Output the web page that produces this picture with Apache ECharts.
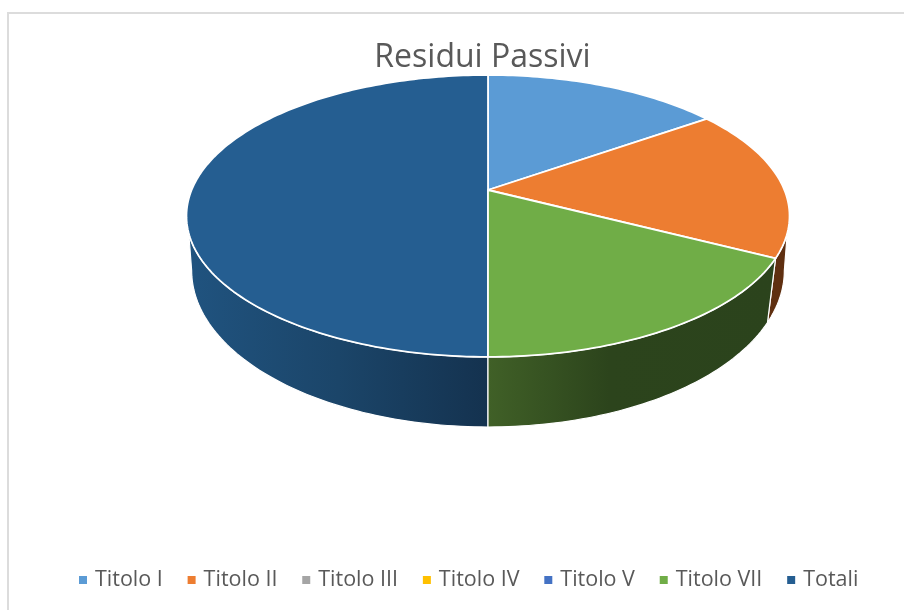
<!DOCTYPE html>
<html><head><meta charset="utf-8">
<style>html,body{margin:0;padding:0;background:#fff}#c{width:904px;height:610px}</style>
<script src="https://cdn.jsdelivr.net/npm/echarts@6/dist/echarts.min.js"></script>
</head><body><div id="c"></div>
<script>
const categories = ['Titolo I','Titolo II','Titolo III','Titolo IV','Titolo V','Titolo VII','Totali'];
const values = [15.2, 17.4, 0, 0, 0, 17.4, 50];
const colors = ['#5B9BD5','#ED7D31','#A5A5A5','#FFC000','#4472C4','#70AD47','#255E91'];
const wallStops = {
  'Titolo I': [[0,'#2f5f8a'],[1,'#2f5f8a']],
  'Titolo II': [[0,'#5f2f10'],[1,'#5f2f10']],
  'Titolo VII': [[0,'#406027'],[0.42,'#2c441c'],[1,'#2b431c']],
  'Totali': [[0,'#20537f'],[0.5,'#1b4569'],[1,'#14324f']]
};
const TOP = {cx:488, cy:190, a:296.4, b:136.2, k:-0.184};
const BOT = {cx:488, cy:247, a:293, b:153, k:-0.15};
const total = values.reduce((s,v)=>s+v,0);
function project(p, t){ const u=Math.sin(t), v=-Math.cos(t), w=1+p.k*v; return [p.cx+p.a*u/w, p.cy+p.b*v/w]; }
function arc(p,t0,t1){ const n=Math.max(2,Math.ceil(Math.abs(t1-t0)/0.02)), out=[]; for(let i=0;i<=n;i++) out.push(project(p,t0+(t1-t0)*i/n)); return out; }
const D2R=Math.PI/180;
const rightTop=(90+17.5)*D2R, leftTop=(270-17.5)*D2R, rightBot=(90+8.6)*D2R, leftBot=(270-8.6)*D2R;
function renderSlice(idx){ return function(params, api){
  const val=api.value(0); if(!val) return null;
  let start=0; for(let i=0;i<idx;i++) start+=values[i];
  const t0=start/total*2*Math.PI, t1=(start+val)/total*2*Math.PI;
  const children=[];
  const s=wallStops[categories[idx]];
  const a0=Math.max(t0,rightTop), a1=Math.min(t1,leftTop);
  if(a1>a0){
    const b0=Math.max(t0,rightBot), b1=Math.min(t1,leftBot);
    const pts=arc(TOP,a0,a1).concat(arc(BOT,b1,b0));
    const xs=pts.map(p=>p[0]); const x0=Math.min(...xs), x1=Math.max(...xs);
    children.push({type:'polygon',z2:1,shape:{points:pts},style:{
      fill:{type:'linear',x:x0,y:0,x2:x1,y2:0,global:true,colorStops:s.map(c=>({offset:c[0],color:c[1]}))},
      stroke:'#fff',lineWidth:1.2}});
  }
  const pts=[[TOP.cx,TOP.cy]].concat(arc(TOP,t0,t1));
  children.push({type:'polygon',z2:2,shape:{points:pts},style:{fill:colors[idx],stroke:'#fff',lineWidth:1.8,lineJoin:'round'}});
  return {type:'group',children};
};}
const chart=echarts.init(document.getElementById('c'),null,{renderer:'canvas'});
chart.setOption({
  animation:false,backgroundColor:'#fff',color:colors,
  title:{text:'Residui Passivi',left:477.5,top:36.5,textAlign:'center',
    textStyle:{fontFamily:'Open Sans',fontWeight:'normal',fontSize:32,color:'#595959'}},
  legend:{data:categories,top:564,left:74,icon:'rect',itemWidth:8,itemHeight:8,itemGap:24.8,selectedMode:false,
    textStyle:{fontFamily:'Open Sans',fontSize:21.5,color:'#595959',padding:[0,0,0,3]}},
  graphic:[{type:'polyline',silent:true,shape:{points:[[8,610],[8,13],[904,13]]},style:{stroke:'#dcdcdc',lineWidth:2,fill:null}}],
  series:categories.map((name,i)=>({type:'custom',name,coordinateSystem:'none',clip:false,
    itemStyle:{color:colors[i]},renderItem:renderSlice(i),data:[[values[i]]],silent:true,z:i===5?3:2}))
});
</script></body></html>
